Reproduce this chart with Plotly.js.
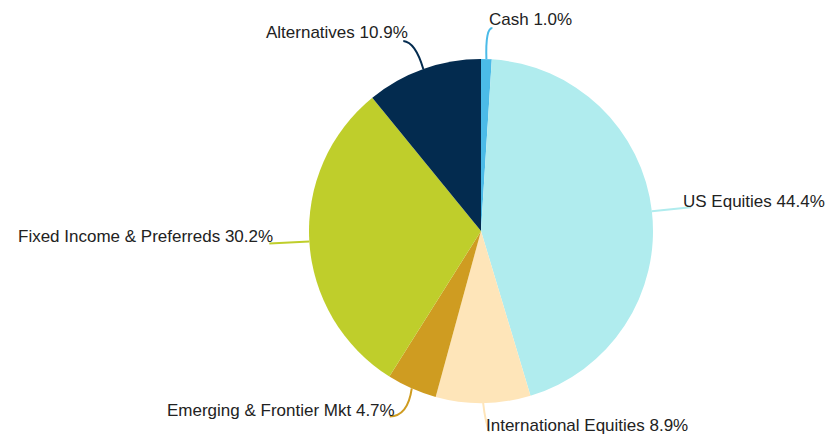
<!DOCTYPE html>
<html>
<head>
<meta charset="utf-8">
<script src="https://cdn.plot.ly/plotly-3.0.1.min.js"></script>
<style>html,body{margin:0;padding:0;background:#fff;}#chart{width:828px;height:435px;}</style>
</head>
<body>
<div id="chart"></div>
<script>
// ---- data ----
const categories = ["Cash", "US Equities", "International Equities", "Emerging & Frontier Mkt", "Fixed Income & Preferreds", "Alternatives"];
const values = [1.0, 44.4, 8.9, 4.7, 30.2, 10.9];
const colors = ["#4bbbe8", "#b0ecee", "#fee5b9", "#cf9c21", "#bfce2b", "#032b4f"];

// ---- layout / styling ----
const W = 828, H = 435;
const CX = 481, CY = 231, R = 172;
// label styling: leader end (dx,dy relative to edge point), control point (relative), text anchor
const labelStyle = [
  {end:[6,-31],  ctrl:[-1,-31], tx:[487,19],  anchor:"left"},
  {end:[39,-4],  ctrl:[20,-2],  tx:[681,201], anchor:"left"},
  {end:[6,29],   ctrl:[2,18],   tx:[484,425], anchor:"left"},
  {end:[-22,28], ctrl:[-4,28],  tx:[397,410], anchor:"right"},
  {end:[-40,2],  ctrl:[-20,1],  tx:[275,236], anchor:"right"},
  {end:[-20,-28],ctrl:[-8,-27], tx:[410,32],  anchor:"right"}
];

const total = values.reduce((a,b)=>a+b,0);
const px = x => x / W;
const py = y => 1 - y / H;

const shapes = [];
const annotations = [];
let cum = 0;
values.forEach((v, i) => {
  const mid = (cum + v/2) / total * 2 * Math.PI;
  cum += v;
  const sx = CX + R * Math.sin(mid);
  const sy = CY - R * Math.cos(mid);
  const st = labelStyle[i];
  const ex = sx + st.end[0], ey = sy + st.end[1];
  const cx = sx + st.ctrl[0], cy = sy + st.ctrl[1];
  shapes.push({
    type: "path", xref: "paper", yref: "paper",
    path: `M ${px(sx)} ${py(sy)} Q ${px(cx)} ${py(cy)} ${px(ex)} ${py(ey)}`,
    line: {color: colors[i], width: 2}
  });
  annotations.push({
    xref: "paper", yref: "paper",
    x: px(st.tx[0]), y: py(st.tx[1]),
    xanchor: st.anchor, yanchor: "middle",
    text: categories[i] + " " + v.toFixed(1) + "%",
    showarrow: false,
    font: {family: "Liberation Sans Narrow, Arial Narrow, Liberation Sans, sans-serif", size: 17, color: "#222"}
  });
});

const trace = {
  type: "pie",
  labels: categories,
  values: values,
  marker: {colors: colors, line: {width: 0}},
  sort: false,
  direction: "clockwise",
  rotation: 0,
  textinfo: "none",
  hoverinfo: "label+percent",
  showlegend: false,
  domain: {x: [px(CX - R), px(CX + R)], y: [py(CY + R), py(CY - R)]}
};

Plotly.newPlot("chart", [trace], {
  width: W, height: H,
  margin: {l:0, r:0, t:0, b:0},
  paper_bgcolor: "#fff",
  showlegend: false,
  shapes: shapes,
  annotations: annotations
}, {displayModeBar: false, staticPlot: true});
</script>
</body>
</html>
